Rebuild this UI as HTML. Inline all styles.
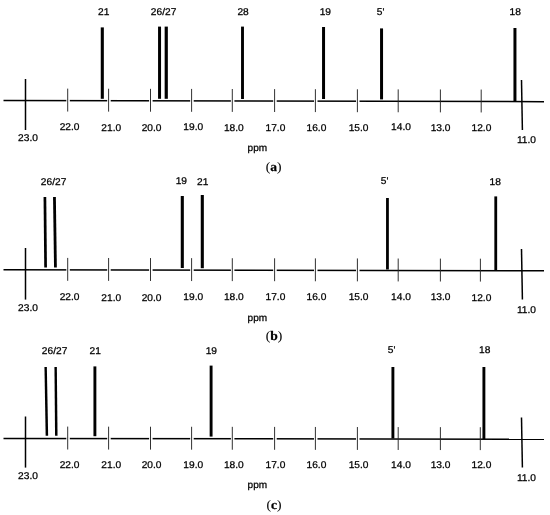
<!DOCTYPE html>
<html><head><meta charset="utf-8"><title>NMR</title>
<style>
html,body{margin:0;padding:0;background:#fff;}
svg{display:block;}
.s{font-family:"Liberation Sans",Arial,sans-serif;font-size:9.8px;fill:#000;stroke:#000;stroke-width:0.26px;text-rendering:geometricPrecision;}
.t{font-family:"Liberation Serif","Times New Roman",serif;font-size:13px;fill:#000;stroke:#000;stroke-width:0.1px;text-rendering:geometricPrecision;}
.b{font-weight:bold;stroke:#000;stroke-width:0.25px;}
</style></head><body>
<svg width="550" height="515" viewBox="0 0 550 515">
<rect width="550" height="515" fill="#fff"/>
<g>
<line x1="3.5" y1="100.5" x2="544" y2="101.7" stroke="#000" stroke-width="1.5"/>
<rect x="66.30" y="99.14" width="3.5" height="3" fill="#fff"/>
<rect x="107.20" y="99.23" width="3.5" height="3" fill="#fff"/>
<rect x="149.10" y="99.33" width="3.5" height="3" fill="#fff"/>
<rect x="190.20" y="99.42" width="3.5" height="3" fill="#fff"/>
<rect x="230.90" y="99.51" width="3.5" height="3" fill="#fff"/>
<rect x="273.20" y="99.60" width="3.5" height="3" fill="#fff"/>
<rect x="314.00" y="99.69" width="3.5" height="3" fill="#fff"/>
<rect x="356.00" y="99.79" width="3.5" height="3" fill="#fff"/>
<line x1="25.5" y1="79" x2="25.5" y2="130" stroke="#000" stroke-width="1.5"/>
<line x1="67.7" y1="88.64" x2="67.7" y2="111.54" stroke="#262626" stroke-width="0.95"/>
<line x1="108.6" y1="88.73" x2="108.6" y2="111.63" stroke="#262626" stroke-width="0.95"/>
<line x1="150.5" y1="88.83" x2="150.5" y2="111.73" stroke="#262626" stroke-width="0.95"/>
<line x1="191.6" y1="88.92" x2="191.6" y2="111.82" stroke="#262626" stroke-width="0.95"/>
<line x1="232.3" y1="89.01" x2="232.3" y2="111.91" stroke="#262626" stroke-width="0.95"/>
<line x1="274.6" y1="89.10" x2="274.6" y2="112.00" stroke="#262626" stroke-width="0.95"/>
<line x1="315.4" y1="89.19" x2="315.4" y2="112.09" stroke="#262626" stroke-width="0.95"/>
<line x1="357.4" y1="89.29" x2="357.4" y2="112.19" stroke="#262626" stroke-width="0.95"/>
<line x1="398.2" y1="89.38" x2="398.2" y2="112.28" stroke="#262626" stroke-width="0.95"/>
<line x1="440.4" y1="89.47" x2="440.4" y2="112.37" stroke="#262626" stroke-width="0.95"/>
<line x1="481.2" y1="89.56" x2="481.2" y2="112.46" stroke="#262626" stroke-width="0.95"/>
<line x1="521.5" y1="80" x2="522.4" y2="130" stroke="#000" stroke-width="1.5"/>
<polygon points="100.75,27.4 103.85,27.4 103.85,98.8 100.75,98.8" fill="#000"/>
<polygon points="158.05,26.6 161.05,26.6 161.05,98.8 158.05,98.8" fill="#000"/>
<polygon points="164.65,26.6 167.85,26.6 167.85,98.8 164.65,98.8" fill="#000"/>
<polygon points="241.05,26.6 243.95,26.6 243.95,99 241.05,99" fill="#000"/>
<polygon points="322.05,27 325.05,27 325.05,99.0 322.05,99.0" fill="#000"/>
<polygon points="380.05,28.4 383.05,28.4 383.05,99.4 380.05,99.4" fill="#000"/>
<polygon points="513.45,28 516.45,28 516.45,101.5 513.45,101.5" fill="#000"/>
<text class="s" transform="translate(98 15.1) scale(1.04 1)">21</text>
<text class="s" transform="translate(150.8 15.1) scale(1.04 1)">26/27</text>
<text class="s" transform="translate(237.4 15.0) scale(1.04 1)">28</text>
<text class="s" transform="translate(319.7 15.1) scale(1.04 1)">19</text>
<text class="s" transform="translate(376.8 15.0) scale(1.04 1)">5'</text>
<text class="s" transform="translate(509.5 15.0) scale(1.04 1)">18</text>
<text class="s" transform="translate(18.1 141.4) scale(1.04 1)">23.0</text>
<text class="s" transform="translate(59.7 130.4) scale(1.04 1)">22.0</text>
<text class="s" transform="translate(101.3 131.3) scale(1.04 1)">21.0</text>
<text class="s" transform="translate(141.7 130.8) scale(1.04 1)">20.0</text>
<text class="s" transform="translate(183.3 130.4) scale(1.04 1)">19.0</text>
<text class="s" transform="translate(223.9 131.0) scale(1.04 1)">18.0</text>
<text class="s" transform="translate(265.5 130.8) scale(1.04 1)">17.0</text>
<text class="s" transform="translate(306.5 130.8) scale(1.04 1)">16.0</text>
<text class="s" transform="translate(348.7 130.6) scale(1.04 1)">15.0</text>
<text class="s" transform="translate(391.1 130.3) scale(1.04 1)">14.0</text>
<text class="s" transform="translate(430.7 130.5) scale(1.04 1)">13.0</text>
<text class="s" transform="translate(471.5 131.0) scale(1.04 1)">12.0</text>
<text class="s" transform="translate(516.9 143.3) scale(1.04 1)">11.0</text>
<text class="s" transform="translate(247.6 151.3) scale(1.025 1)">ppm</text>
<text class="t" transform="translate(265.7 171.1) scale(1.04 1)">(<tspan class="b">a</tspan>)</text>
</g>
<g>
<line x1="3.5" y1="269.8" x2="544" y2="270.8" stroke="#000" stroke-width="1.5"/>
<rect x="66.30" y="268.42" width="3.5" height="3" fill="#fff"/>
<rect x="107.20" y="268.49" width="3.5" height="3" fill="#fff"/>
<rect x="149.10" y="268.57" width="3.5" height="3" fill="#fff"/>
<rect x="190.20" y="268.65" width="3.5" height="3" fill="#fff"/>
<rect x="230.90" y="268.72" width="3.5" height="3" fill="#fff"/>
<rect x="273.20" y="268.80" width="3.5" height="3" fill="#fff"/>
<rect x="314.00" y="268.88" width="3.5" height="3" fill="#fff"/>
<rect x="356.00" y="268.95" width="3.5" height="3" fill="#fff"/>
<line x1="25.5" y1="248" x2="25.5" y2="299.6" stroke="#000" stroke-width="1.5"/>
<line x1="67.7" y1="257.92" x2="67.7" y2="280.82" stroke="#262626" stroke-width="0.95"/>
<line x1="108.6" y1="257.99" x2="108.6" y2="280.89" stroke="#262626" stroke-width="0.95"/>
<line x1="150.5" y1="258.07" x2="150.5" y2="280.97" stroke="#262626" stroke-width="0.95"/>
<line x1="191.6" y1="258.15" x2="191.6" y2="281.05" stroke="#262626" stroke-width="0.95"/>
<line x1="232.3" y1="258.22" x2="232.3" y2="281.12" stroke="#262626" stroke-width="0.95"/>
<line x1="274.6" y1="258.30" x2="274.6" y2="281.20" stroke="#262626" stroke-width="0.95"/>
<line x1="315.4" y1="258.38" x2="315.4" y2="281.28" stroke="#262626" stroke-width="0.95"/>
<line x1="357.4" y1="258.45" x2="357.4" y2="281.35" stroke="#262626" stroke-width="0.95"/>
<line x1="398.2" y1="258.53" x2="398.2" y2="281.43" stroke="#262626" stroke-width="0.95"/>
<line x1="440.4" y1="258.61" x2="440.4" y2="281.51" stroke="#262626" stroke-width="0.95"/>
<line x1="480.4" y1="258.68" x2="480.4" y2="281.58" stroke="#262626" stroke-width="0.95"/>
<line x1="521.5" y1="249" x2="522.4" y2="299.5" stroke="#000" stroke-width="1.5"/>
<polygon points="43.55,197 46.25,197 46.95,267.6 44.25,267.6" fill="#000"/>
<polygon points="53.05,197 55.85,197 56.85,267.6 54.05,267.6" fill="#000"/>
<polygon points="180.75,196 183.85,196 183.85,268 180.75,268" fill="#000"/>
<polygon points="200.75,195 203.85,195 203.85,268.2 200.75,268.2" fill="#000"/>
<polygon points="386.05,198 388.85,198 388.85,269.5 386.05,269.5" fill="#000"/>
<polygon points="494.35,196.4 497.15,196.4 497.15,270.5 494.35,270.5" fill="#000"/>
<text class="s" transform="translate(40.8 185.0) scale(1.04 1)">26/27</text>
<text class="s" transform="translate(175.7 184.2) scale(1.04 1)">19</text>
<text class="s" transform="translate(197 185.1) scale(1.04 1)">21</text>
<text class="s" transform="translate(380.8 184.1) scale(1.04 1)">5'</text>
<text class="s" transform="translate(489.6 184.9) scale(1.04 1)">18</text>
<text class="s" transform="translate(18.1 311.2) scale(1.04 1)">23.0</text>
<text class="s" transform="translate(59.7 299.8) scale(1.04 1)">22.0</text>
<text class="s" transform="translate(101.3 300.7) scale(1.04 1)">21.0</text>
<text class="s" transform="translate(141.7 300.5) scale(1.04 1)">20.0</text>
<text class="s" transform="translate(183.3 299.8) scale(1.04 1)">19.0</text>
<text class="s" transform="translate(223.9 300.4) scale(1.04 1)">18.0</text>
<text class="s" transform="translate(265.5 300.2) scale(1.04 1)">17.0</text>
<text class="s" transform="translate(306.5 300.2) scale(1.04 1)">16.0</text>
<text class="s" transform="translate(348.7 300.0) scale(1.04 1)">15.0</text>
<text class="s" transform="translate(391.1 299.7) scale(1.04 1)">14.0</text>
<text class="s" transform="translate(430.7 300.0) scale(1.04 1)">13.0</text>
<text class="s" transform="translate(471.5 300.7) scale(1.04 1)">12.0</text>
<text class="s" transform="translate(516.9 313.2) scale(1.04 1)">11.0</text>
<text class="s" transform="translate(247.6 320.8) scale(1.025 1)">ppm</text>
<text class="t" transform="translate(265.7 340.2) scale(1.04 1)">(<tspan class="b">b</tspan>)</text>
</g>
<g>
<line x1="3.5" y1="438.5" x2="544" y2="439.3" stroke="#000" stroke-width="1.5"/>
<rect x="66.30" y="437.10" width="3.5" height="3" fill="#fff"/>
<rect x="107.20" y="437.16" width="3.5" height="3" fill="#fff"/>
<rect x="149.10" y="437.22" width="3.5" height="3" fill="#fff"/>
<rect x="190.20" y="437.28" width="3.5" height="3" fill="#fff"/>
<rect x="230.90" y="437.34" width="3.5" height="3" fill="#fff"/>
<rect x="273.20" y="437.40" width="3.5" height="3" fill="#fff"/>
<rect x="314.00" y="437.46" width="3.5" height="3" fill="#fff"/>
<rect x="356.00" y="437.52" width="3.5" height="3" fill="#fff"/>
<line x1="25.5" y1="416.5" x2="25.5" y2="467.6" stroke="#000" stroke-width="1.5"/>
<line x1="67.7" y1="426.60" x2="67.7" y2="449.50" stroke="#262626" stroke-width="0.95"/>
<line x1="108.6" y1="426.66" x2="108.6" y2="449.56" stroke="#262626" stroke-width="0.95"/>
<line x1="150.5" y1="426.72" x2="150.5" y2="449.62" stroke="#262626" stroke-width="0.95"/>
<line x1="191.6" y1="426.78" x2="191.6" y2="449.68" stroke="#262626" stroke-width="0.95"/>
<line x1="232.3" y1="426.84" x2="232.3" y2="449.74" stroke="#262626" stroke-width="0.95"/>
<line x1="274.6" y1="426.90" x2="274.6" y2="449.80" stroke="#262626" stroke-width="0.95"/>
<line x1="315.4" y1="426.96" x2="315.4" y2="449.86" stroke="#262626" stroke-width="0.95"/>
<line x1="357.4" y1="427.02" x2="357.4" y2="449.92" stroke="#262626" stroke-width="0.95"/>
<line x1="398.2" y1="427.08" x2="398.2" y2="449.98" stroke="#262626" stroke-width="0.95"/>
<line x1="440.4" y1="427.15" x2="440.4" y2="450.05" stroke="#262626" stroke-width="0.95"/>
<line x1="480.3" y1="427.21" x2="480.3" y2="450.11" stroke="#262626" stroke-width="0.95"/>
<line x1="521.5" y1="417.5" x2="522.4" y2="467.5" stroke="#000" stroke-width="1.5"/>
<polygon points="44.45,367 46.85,367 48.15,435.8 45.65,435.8" fill="#000"/>
<polygon points="54.45,367 56.85,367 57.55,435.8 55.05,435.8" fill="#000"/>
<polygon points="93.45,366.4 96.35,366.4 96.35,436.2 93.45,436.2" fill="#000"/>
<polygon points="209.65,365.6 212.55,365.6 212.55,436.6 209.65,436.6" fill="#000"/>
<polygon points="391.45,367 394.35,367 394.35,438.5 391.45,438.5" fill="#000"/>
<polygon points="482.45,367 485.35,367 485.35,439 482.45,439" fill="#000"/>
<text class="s" transform="translate(41.8 353.7) scale(1.04 1)">26/27</text>
<text class="s" transform="translate(89.5 353.9) scale(1.04 1)">21</text>
<text class="s" transform="translate(205.7 353.5) scale(1.04 1)">19</text>
<text class="s" transform="translate(387.8 353.4) scale(1.04 1)">5'</text>
<text class="s" transform="translate(479.1 353.4) scale(1.04 1)">18</text>
<text class="s" transform="translate(18.1 479.2) scale(1.04 1)">23.0</text>
<text class="s" transform="translate(59.7 467.6) scale(1.04 1)">22.0</text>
<text class="s" transform="translate(101.3 468.4) scale(1.04 1)">21.0</text>
<text class="s" transform="translate(141.7 468.4) scale(1.04 1)">20.0</text>
<text class="s" transform="translate(183.3 468.0) scale(1.04 1)">19.0</text>
<text class="s" transform="translate(223.9 468.0) scale(1.04 1)">18.0</text>
<text class="s" transform="translate(265.5 468.4) scale(1.04 1)">17.0</text>
<text class="s" transform="translate(306.5 468.4) scale(1.04 1)">16.0</text>
<text class="s" transform="translate(348.7 468.2) scale(1.04 1)">15.0</text>
<text class="s" transform="translate(391.1 467.9) scale(1.04 1)">14.0</text>
<text class="s" transform="translate(430.7 468.1) scale(1.04 1)">13.0</text>
<text class="s" transform="translate(471.5 468.1) scale(1.04 1)">12.0</text>
<text class="s" transform="translate(516.9 481.0) scale(1.04 1)">11.0</text>
<text class="s" transform="translate(247.6 488.1) scale(1.025 1)">ppm</text>
<text class="t" transform="translate(266.4 508.8) scale(1.04 1)">(<tspan class="b">c</tspan>)</text>
</g>
</svg>
</body></html>
